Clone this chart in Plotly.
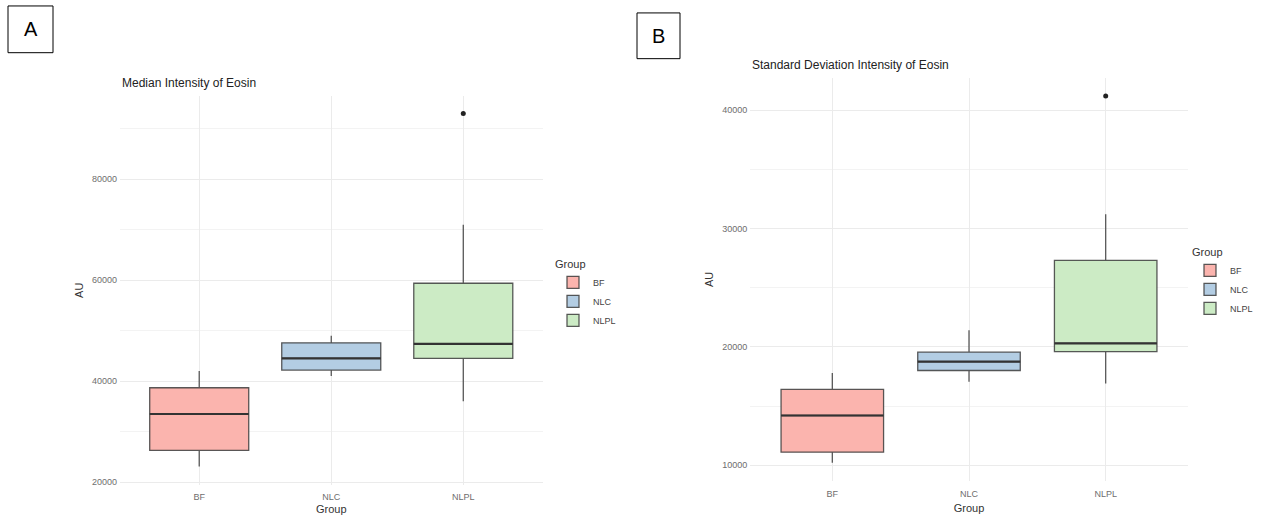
import plotly.graph_objects as go

# Eosin intensity summaries per group (box statistics)
groups = ["BF", "NLC", "NLPL"]
fills = ["#FBB4AE", "#B3CDE3", "#CCEBC5"]

# Panel A: median intensity
med_lower = [23100, 41000, 36000]
med_q1 = [26300, 42200, 44500]
med_median = [33500, 44500, 47400]
med_q3 = [38700, 47600, 59400]
med_upper = [42000, 49000, 71000]
med_out_group = ["NLPL"]
med_out_value = [93000]

# Panel B: standard deviation of intensity
sd_lower = [10200, 17050, 16900]
sd_q1 = [11100, 18000, 19600]
sd_median = [14200, 18750, 20300]
sd_q3 = [16400, 19550, 27300]
sd_upper = [17800, 21400, 31200]
sd_out_group = ["NLPL"]
sd_out_value = [41200]

W, H = 1262, 515
BOX_W = 0.75


def px_x(p):
    return p / W


def px_y(p):
    return 1 - p / H


fig = go.Figure()


def add_panel(xa, ya, legend, lower, q1, med, q3, upper, out_g, out_v):
    for i, g in enumerate(groups):
        fig.add_trace(go.Box(
            x=[g], q1=[q1[i]], median=[med[i]], q3=[q3[i]],
            lowerfence=[lower[i]], upperfence=[upper[i]],
            name=g, fillcolor=fills[i], width=BOX_W,
            line=dict(color="rgba(60,60,60,0.85)", width=1.3),
            whiskerwidth=0, boxpoints=False,
            xaxis=xa, yaxis=ya, legend=legend, showlegend=True,
            hoverinfo="y",
        ))
        # thicker median bar, as in ggplot boxplots
        fig.add_shape(type="line", xref=xa, yref=ya,
                      x0=i - BOX_W / 2, x1=i + BOX_W / 2, y0=med[i], y1=med[i],
                      line=dict(color="#333333", width=2.2), layer="above")
    fig.add_trace(go.Scatter(
        x=out_g, y=out_v, mode="markers",
        marker=dict(color="#222222", size=5),
        xaxis=xa, yaxis=ya, showlegend=False, hoverinfo="y",
    ))


add_panel("x", "y", "legend", med_lower, med_q1, med_median, med_q3, med_upper,
          med_out_group, med_out_value)
add_panel("x2", "y2", "legend2", sd_lower, sd_q1, sd_median, sd_q3, sd_upper,
          sd_out_group, sd_out_value)

FONT = "Liberation Sans, Arial, sans-serif"
tick_font = dict(family=FONT, size=9, color="#6e6e6e")
axis_title_font = dict(family=FONT, size=11, color="#333333")
grid = "#ebebeb"


def xaxis_cfg(domain, label_gap, title_gap):
    return dict(domain=domain, type="category", range=[-0.6, 2.6],
                showgrid=True, gridcolor=grid, gridwidth=1, zeroline=False,
                showline=False, ticks="", tickfont=tick_font,
                ticklabelstandoff=label_gap,
                title=dict(text="Group", font=axis_title_font, standoff=title_gap))


def yaxis_cfg(domain, rng, dtick, anchor):
    return dict(domain=domain, range=rng, dtick=dtick, tick0=0, tickformat="d",
                showgrid=True, gridcolor=grid, gridwidth=1, zeroline=False,
                showline=False, ticks="", tickfont=tick_font, anchor=anchor,
                ticklabelstandoff=2,
                minor=dict(dtick=dtick / 2, tick0=0, showgrid=True,
                           gridcolor="#f3f3f3", gridwidth=0.8),
                title=dict(text="AU", font=axis_title_font, standoff=6))


legend_cfg = dict(
    title=dict(text="Group", font=dict(family=FONT, size=11, color="#333333")),
    font=dict(family=FONT, size=9, color="#444444"),
    bgcolor="rgba(0,0,0,0)", xanchor="left", yanchor="top",
    itemwidth=30, tracegroupgap=0,
)

fig.update_layout(
    width=W, height=H,
    margin=dict(l=0, r=0, t=0, b=0),
    paper_bgcolor="white", plot_bgcolor="white",
    font=dict(family=FONT),
    boxmode="overlay",
    xaxis=dict(**xaxis_cfg([px_x(120), px_x(542.5)], 5, 4), anchor="y"),
    yaxis=yaxis_cfg([px_y(487.5), px_y(96.5)], [19500, 96500], 20000, "x"),
    xaxis2=dict(**xaxis_cfg([px_x(750.3), px_x(1187.7)], 6, 6), anchor="y2"),
    yaxis2=yaxis_cfg([px_y(484), px_y(78)], [8650, 42750], 10000, "x2"),
    legend=dict(**legend_cfg, x=px_x(553), y=px_y(255)),
    legend2=dict(**legend_cfg, x=px_x(1190), y=px_y(243)),
    showlegend=True,
)

# Panel titles
fig.add_annotation(text="Median Intensity of Eosin", xref="paper", yref="paper",
                   x=px_x(120), y=px_y(83), xanchor="left", yanchor="middle",
                   showarrow=False, font=dict(family=FONT, size=12, color="#222222"))
fig.add_annotation(text="Standard Deviation Intensity of Eosin", xref="paper", yref="paper",
                   x=px_x(750), y=px_y(65), xanchor="left", yanchor="middle",
                   showarrow=False, font=dict(family=FONT, size=12, color="#222222"))

# Boxed panel letters
for letter, (x0, y0, x1, y1) in [("A", (8, 6, 53, 53)), ("B", (637, 13, 680, 59))]:
    fig.add_shape(type="rect", xref="paper", yref="paper",
                  x0=px_x(x0), x1=px_x(x1), y0=px_y(y1), y1=px_y(y0),
                  line=dict(color="#000000", width=1), fillcolor="white")
    fig.add_annotation(text=letter, xref="paper", yref="paper",
                       x=px_x((x0 + x1) / 2), y=px_y((y0 + y1) / 2),
                       xanchor="center", yanchor="middle", showarrow=False,
                       font=dict(family=FONT, size=20, color="#000000"))

fig.write_html("out.html")
